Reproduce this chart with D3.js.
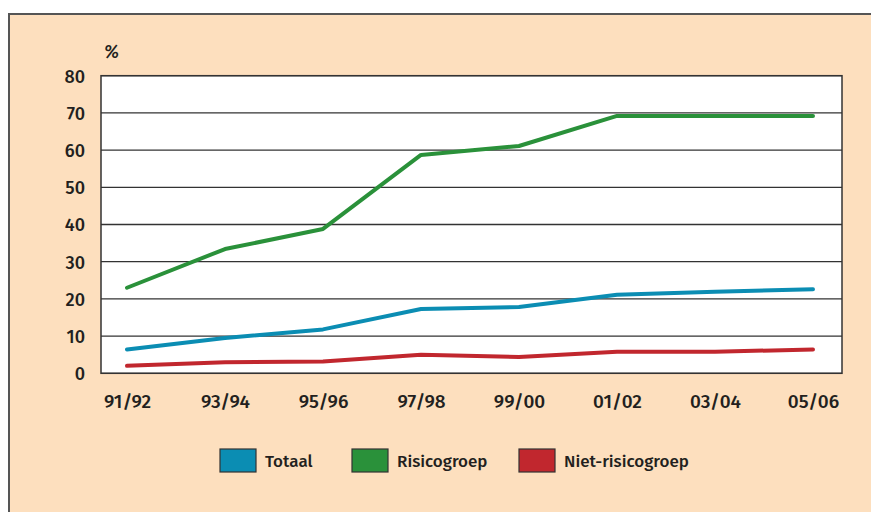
<!DOCTYPE html>
<html><head><meta charset="utf-8">
<script src="https://cdn.jsdelivr.net/npm/d3@7"></script>
<style>body{margin:0;background:#fff}svg{display:block}</style>
</head><body>
<svg id="c" width="871" height="512"></svg>
<script>
const categories = ["91/92","93/94","95/96","97/98","99/00","01/02","03/04","05/06"];
const totaal = [6.4, 9.5, 11.8, 17.3, 17.8, 21.1, 21.9, 22.6];
const risicogroep = [23, 33.4, 38.8, 58.7, 61.1, 69.2, 69.2, 69.2];
const nietRisicogroep = [2.0, 3.0, 3.2, 5.0, 4.4, 5.8, 5.8, 6.4];
const yTicks = [0,10,20,30,40,50,60,70,80];
const seriesNames = ["Totaal","Risicogroep","Niet-risicogroep"];
const seriesColors = ["#0b8db3","#2a913a","#c1272e"];
const seriesData = [totaal, risicogroep, nietRisicogroep];

const svg = d3.select("#c");
const font = "'Fira Sans','Noto Sans','Open Sans',sans-serif";
const ink = "#231f20";

// outer panel
svg.append("rect").attr("x",9).attr("y",14).attr("width",880).attr("height",520)
  .attr("fill","#fddfbe").attr("stroke","#555").attr("stroke-width",2);

const L=101, R=842, T=75.7, B=373.3;
svg.append("rect").attr("x",L).attr("y",T).attr("width",R-L).attr("height",B-T).attr("fill","#fff");

const x = d3.scalePoint().domain(categories).range([127,813]);
const y = d3.scaleLinear().domain([0,80]).range([B,T]);

// gridlines
svg.append("g").selectAll("line").data(yTicks).join("line")
  .attr("x1",L).attr("x2",R).attr("y1",d=>y(d)).attr("y2",d=>y(d))
  .attr("stroke","#333").attr("stroke-width",1.3);
svg.append("rect").attr("x",L).attr("y",T).attr("width",R-L).attr("height",B-T)
  .attr("fill","none").attr("stroke","#333").attr("stroke-width",1.5);

// y axis labels
const yAxis = d3.axisLeft(y).tickValues(yTicks).tickSize(0).tickPadding(0);
const gy = svg.append("g").attr("transform",`translate(85,0)`).call(yAxis);
gy.select(".domain").remove();
gy.selectAll("text").attr("font-family",font).attr("font-size",18).attr("font-weight",500)
  .attr("fill",ink).attr("dy","0.35em");

svg.append("text").attr("x",104).attr("y",58).text("%")
  .attr("font-family",font).attr("font-size",18).attr("font-style","italic").attr("font-weight",500).attr("fill",ink);

// x axis labels
const xAxis = d3.axisBottom(x).tickSize(0).tickPadding(0);
const gx = svg.append("g").attr("transform",`translate(0,401)`).call(xAxis);
gx.select(".domain").remove();
gx.selectAll("text").attr("font-family",font).attr("font-size",19).attr("font-weight",500)
  .attr("fill",ink).attr("dy","0.35em");

// lines
const line = d3.line().x((d,i)=>x(categories[i])).y(d=>y(d));
seriesData.forEach((s,k)=>{
  svg.append("path").datum(s).attr("d",line).attr("fill","none")
    .attr("stroke",seriesColors[k]).attr("stroke-width",4).attr("stroke-linecap","round").attr("stroke-linejoin","round");
});

// legend
const legX = [220, 352, 519];
seriesNames.forEach((n,k)=>{
  const g = svg.append("g").attr("transform",`translate(${legX[k]},449)`);
  g.append("rect").attr("width",36).attr("height",23).attr("fill",seriesColors[k]).attr("stroke","#333").attr("stroke-width",1.2);
  g.append("text").attr("x",45).attr("y",18).text(n).attr("font-family",font).attr("font-size",17)
    .attr("font-weight",500).attr("fill",ink);
});
</script>
</body></html>
